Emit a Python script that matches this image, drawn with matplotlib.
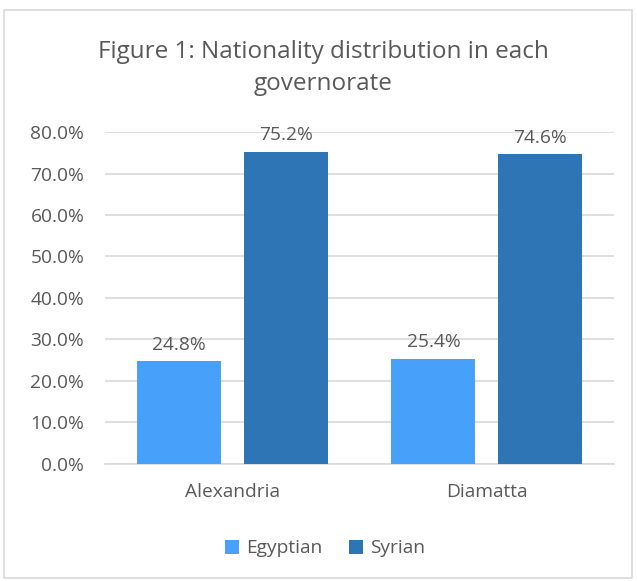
import matplotlib.pyplot as plt
import matplotlib.patches as mpatches
import numpy as np

plt.rcParams['font.family'] = ['Open Sans', 'DejaVu Sans']

governorates = ['Alexandria', 'Diamatta']
egyptian = [24.8, 25.4]
syrian = [75.2, 74.6]
series_names = ['Egyptian', 'Syrian']
yticks = [0, 10, 20, 30, 40, 50, 60, 70, 80]

text_color = '#595959'
colors = ['#47A0FA', '#2E75B6']
fs = 13.8

fig = plt.figure(figsize=(6.37, 5.81), dpi=100)
ax = fig.add_axes([0.165, 0.2014, 0.799, 0.5714])

# outer chart frame
fig.patches.append(mpatches.Rectangle((4 / 637, 3 / 581), 628 / 637, 568 / 581,
                                      transform=fig.transFigure, fill=False,
                                      edgecolor='#D9D9D9', linewidth=1.2))

x = np.arange(len(governorates))
width = 0.33
offset = 0.21
bars_eg = ax.bar(x - offset, egyptian, width, color=colors[0], label=series_names[0], zorder=3)
bars_sy = ax.bar(x + offset, syrian, width, color=colors[1], label=series_names[1], zorder=3)

for bars, vals in [(bars_eg, egyptian), (bars_sy, syrian)]:
    for b, v in zip(bars, vals):
        ax.text(b.get_x() + b.get_width() / 2, v + 1.8, f'{v:.1f}%', ha='center', va='bottom',
                fontsize=fs, color=text_color)

ax.set_xlim(-0.5, 1.5)
ax.set_ylim(0, 80)
ax.set_yticks(yticks)
ax.set_yticklabels([f'{t:.1f}%' for t in yticks], fontsize=fs, color=text_color)
ax.set_xticks(x)
ax.set_xticklabels(governorates, fontsize=fs, color=text_color)
ax.tick_params(axis='y', length=0, pad=15)
ax.tick_params(axis='x', length=0, pad=14)
ax.grid(axis='y', color='#D9D9D9', linewidth=1.2, zorder=0)
for s in ['top', 'right', 'left']:
    ax.spines[s].set_visible(False)
ax.spines['bottom'].set_color('#D9D9D9')
ax.spines['bottom'].set_linewidth(1.2)

fig.text(0.507, 0.883, 'Figure 1: Nationality distribution in each\ngovernorate', ha='center',
         va='center', fontsize=17.5, color=text_color, linespacing=1.45)

ax.legend(loc='center', bbox_to_anchor=(0.51, 0.056), bbox_transform=fig.transFigure,
          ncol=2, frameon=False, fontsize=fs, labelcolor=text_color, handlelength=0.75,
          handleheight=0.75, handletextpad=0.35, columnspacing=1.4)

fig.savefig('out.png', dpi=100, facecolor='white')
